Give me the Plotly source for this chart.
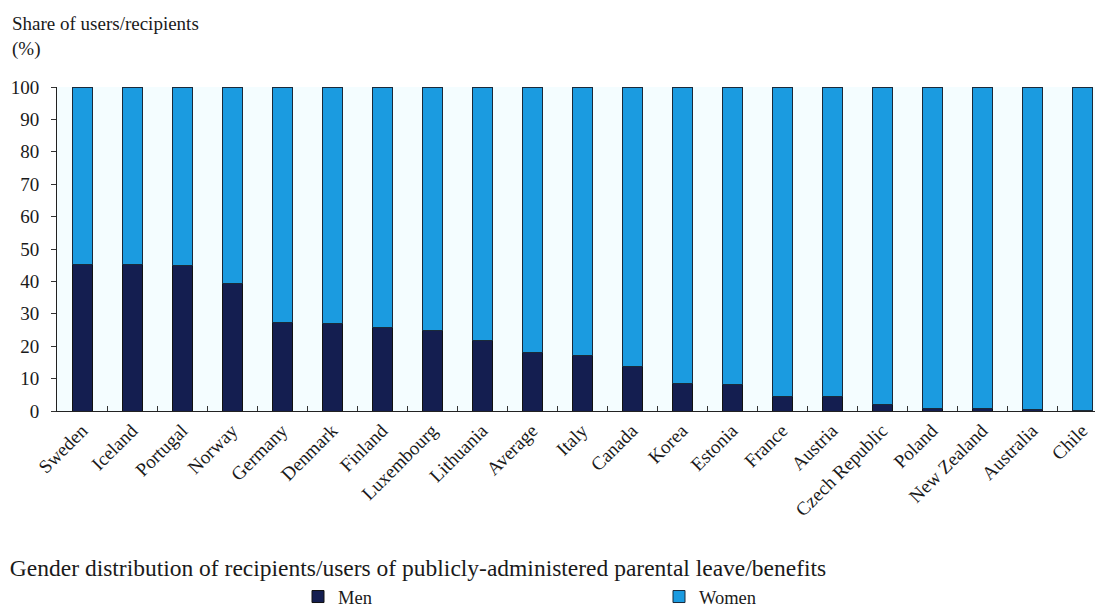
import plotly.graph_objects as go

categories = ["Sweden", "Iceland", "Portugal", "Norway", "Germany", "Denmark", "Finland",
              "Luxembourg", "Lithuania", "Average", "Italy", "Canada", "Korea", "Estonia",
              "France", "Austria", "Czech Republic", "Poland", "New Zealand", "Australia", "Chile"]
men = [45.3, 45.3, 44.9, 39.4, 27.4, 26.9, 25.8, 24.8, 21.8, 18.2, 17.0, 13.8, 8.6, 8.2,
       4.4, 4.4, 2.0, 0.9, 0.9, 0.5, 0.2]
women = [round(100 - m, 1) for m in men]
y_ticks = [0, 10, 20, 30, 40, 50, 60, 70, 80, 90, 100]

FONT = "Liberation Serif, Times New Roman, serif"
TXT = "#1a1a1a"

fig = go.Figure()
fig.add_trace(go.Bar(x=categories, y=men, name="Men", marker=dict(color="#141E50", line=dict(color="#111111", width=1)), width=0.4))
fig.add_trace(go.Bar(x=categories, y=women, name="Women", marker=dict(color="#1B9BE0", line=dict(color="#1a2a3a", width=1)), width=0.4))

fig.update_layout(
    barmode="stack",
    width=1095, height=607,
    margin=dict(l=57, r=0, t=87, b=196),
    paper_bgcolor="white",
    plot_bgcolor="#F4FDFF",
    font=dict(family=FONT, size=18, color=TXT),
    showlegend=True,
    legend=dict(orientation="h", xref="container", yref="container",
                x=298/1095, xanchor="left", y=1 - 597/607, yanchor="middle",
                traceorder="normal",
                entrywidth=316, entrywidthmode="pixels", font=dict(size=18.5, family=FONT, color=TXT),
                itemwidth=30, bgcolor="rgba(0,0,0,0)"),
    title=dict(text="Gender distribution of recipients/users of publicly-administered parental leave/benefits",
               x=0.009, xanchor="left", xref="container", y=1 - 568/607, yanchor="middle", yref="container",
               font=dict(size=23.5, family=FONT, color=TXT)),
    xaxis=dict(type="category", range=[-0.5, 20.26], tickangle=-45, ticks="inside", tickson="boundaries",
               ticklen=5, tickcolor="#333333", showline=True, linecolor="#222222", linewidth=1,
               showgrid=False, automargin=False, tickfont=dict(size=19, family=FONT, color=TXT)),
    yaxis=dict(range=[0, 100], tickvals=y_ticks, ticks="outside", ticklen=5, tickcolor="#333333",
               showline=True, linecolor="#222222", linewidth=1, showgrid=False, zeroline=False,
               automargin=False, ticklabelstandoff=8,
               tickfont=dict(size=19, family=FONT, color=TXT)),
    annotations=[dict(text="Share of users/recipients<br>(%)", x=-47/1038, y=1 + 76/324, xref="paper", yref="paper",
                      showarrow=False, align="left", xanchor="left", yanchor="top",
                      font=dict(size=19, family=FONT, color=TXT))],
)

fig.write_html("out.html")
